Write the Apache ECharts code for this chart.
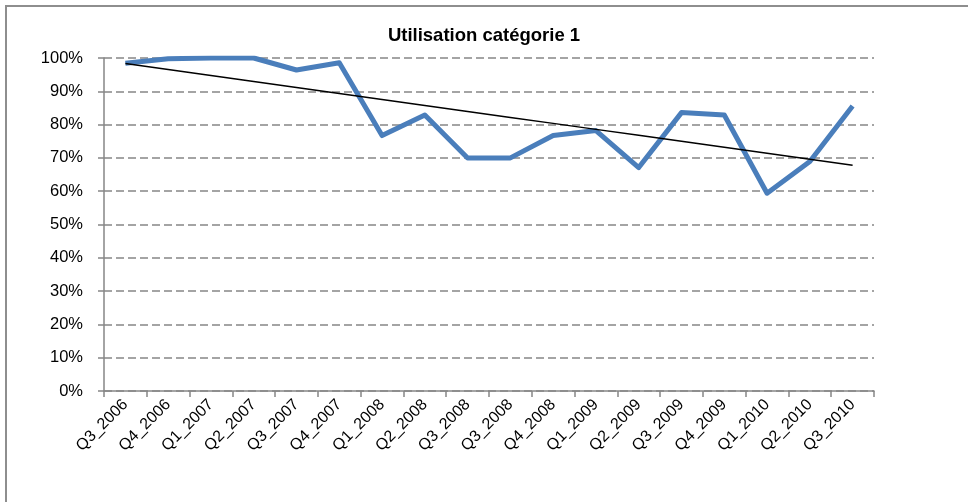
<!DOCTYPE html>
<html>
<head>
<meta charset="utf-8">
<script src="https://cdn.jsdelivr.net/npm/echarts@6/dist/echarts.min.js"></script>
<style>
  html, body { margin: 0; padding: 0; background: #fff; }
  #chart { width: 968px; height: 502px; }
</style>
</head>
<body>
<div id="chart"></div>
<script>
// Quarterly usage rate, category 1 (percent)
const quarters = [
  'Q3_2006', 'Q4_2006', 'Q1_2007', 'Q2_2007', 'Q3_2007', 'Q4_2007',
  'Q1_2008', 'Q2_2008', 'Q3_2008', 'Q3_2008', 'Q4_2008', 'Q1_2009',
  'Q2_2009', 'Q3_2009', 'Q4_2009', 'Q1_2010', 'Q2_2010', 'Q3_2010'
];
const usage = [
  98.4, 99.8, 100, 100, 96.4, 98.6,
  76.7, 82.9, 70, 70, 76.7, 78.2,
  67.1, 83.6, 82.9, 59.4, 68.9, 85.6
];
const yTicks = [0, 10, 20, 30, 40, 50, 60, 70, 80, 90, 100];

// Linear least-squares trend over the quarter index
function linearTrend(values) {
  const n = values.length;
  const mx = (n - 1) / 2;
  const my = values.reduce((a, b) => a + b, 0) / n;
  let sxy = 0, sxx = 0;
  values.forEach((v, i) => { sxy += (i - mx) * (v - my); sxx += (i - mx) * (i - mx); });
  const slope = sxy / sxx;
  return values.map((_, i) => my + slope * (i - mx));
}
const trend = linearTrend(usage);

const FONT = '"Liberation Sans", Arial, sans-serif';
const axisGray = '#868686';

const chart = echarts.init(document.getElementById('chart'), null, { renderer: 'canvas' });
chart.setOption({
  animation: false,
  backgroundColor: '#ffffff',
  title: {
    text: 'Utilisation catégorie 1',
    left: 'center',
    top: 21,
    textStyle: { fontFamily: FONT, fontSize: 18.5, fontWeight: 'bold', color: '#000' }
  },
  graphic: [{
    type: 'rect',
    shape: { x: 6, y: 6, width: 980, height: 520 },
    style: { fill: 'none', stroke: '#8e8e8e', lineWidth: 2 },
    silent: true,
    z: -1
  }],
  grid: { left: 104, right: 94, top: 58, bottom: 111, containLabel: false },
  xAxis: {
    type: 'category',
    data: quarters,
    boundaryGap: true,
    axisLine: { lineStyle: { color: axisGray, width: 1.5 } },
    axisTick: { show: true, length: 6, alignWithLabel: false, lineStyle: { color: axisGray, width: 1.5 } },
    axisLabel: {
      rotate: 45,
      interval: 0,
      margin: 11,
      fontFamily: FONT,
      fontSize: 16,
      color: '#000'
    },
    splitLine: { show: false }
  },
  yAxis: {
    type: 'value',
    min: yTicks[0],
    max: yTicks[yTicks.length - 1],
    interval: 10,
    axisLine: { show: true, lineStyle: { color: axisGray, width: 1.5 } },
    axisTick: { show: true, length: 6, lineStyle: { color: axisGray, width: 1.5 } },
    axisLabel: {
      formatter: v => v + '%',
      margin: 21,
      fontFamily: FONT,
      fontSize: 16.5,
      color: '#000'
    },
    splitLine: { show: true, lineStyle: { color: axisGray, type: [8, 4], width: 1.5 } }
  },
  series: [
    {
      name: 'Utilisation',
      type: 'line',
      data: usage,
      symbol: 'none',
      lineStyle: { color: '#4a7ebb', width: 5, join: 'round' },
      z: 3
    },
    {
      name: 'Tendance',
      type: 'line',
      data: trend,
      symbol: 'none',
      lineStyle: { color: '#000000', width: 1.5 },
      z: 4
    }
  ]
});
</script>
</body>
</html>
